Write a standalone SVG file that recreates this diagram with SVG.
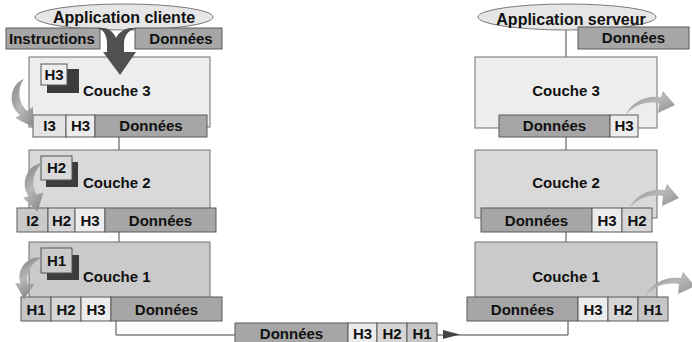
<svg xmlns="http://www.w3.org/2000/svg" width="692" height="342" viewBox="0 0 692 342">
  <style>
    text { font-family: "Liberation Sans", Arial, sans-serif; font-weight: bold; fill: #111; }
    .t15 { font-size: 15px; }
    .t16 { font-size: 16px; }
    .mid { text-anchor: middle; }
    .app { fill: #e6e6e6; stroke: #7a7a7a; stroke-width: 1; }
    .layer { stroke: #707070; stroke-width: 1; }
    .c3 { fill: #ededed; }
    .c2 { fill: #d9d9d9; }
    .c1 { fill: #cacaca; }
    .cell { stroke: #5a5a5a; stroke-width: 1; }
    .data { fill: #a6a6a6; }
    .h3 { fill: #ececec; }
    .h2 { fill: #d6d6d6; }
    .h1 { fill: #c6c6c6; }
    .i3 { fill: #e4e4e4; }
    .i2 { fill: #c9c9c9; }
    .tag { stroke: #555; stroke-width: 1; }
    .shadow { fill: #3c3c3c; }
    .wire { fill: none; stroke: #444; stroke-width: 1; }
    .bend { fill: url(#greyShade); }
  </style>
  <defs>
    <linearGradient id="greyShade" x1="0" y1="0" x2="1" y2="1">
      <stop offset="0" stop-color="#858585"/>
      <stop offset="0.5" stop-color="#b8b8b8"/>
      <stop offset="1" stop-color="#8a8a8a"/>
    </linearGradient>
    <!-- header being pushed down into the packet -->
    <path id="dropArrow" d="M0,0 C-14,5 -17,26 -4,36 L-9,39 L9,48 L9,28 L3,32 C-7,22 -6,8 0,0 Z"/>
    <!-- header being lifted out of the packet -->
    <path id="liftArrow" d="M0,0 C8,-11 21,-15 34,-13 L33,-3 L50,-11 L38,-25 L36,-19 C21,-21 6,-14 0,0 Z"/>
  </defs>

  <!-- connectors -->
  <g id="connectors">
    <line class="wire" x1="119" y1="137" x2="119" y2="150"/>
    <line class="wire" x1="119" y1="232" x2="119" y2="242"/>
    <line class="wire" x1="566" y1="30" x2="566" y2="57"/>
    <line class="wire" x1="566" y1="137" x2="566" y2="150"/>
    <line class="wire" x1="566" y1="232" x2="566" y2="242"/>
    <polyline class="wire" points="116,321 116,335 568,335 568,321"/>
    <polygon points="443,330 460,334.5 443,339" fill="#444"/>
  </g>

  <!-- client side -->
  <g id="client-app">
    <ellipse class="app" cx="124" cy="17" rx="89" ry="13"/>
    <text class="t16 mid" x="124" y="23">Application cliente</text>
  </g>
  <g id="client-instructions">
    <rect class="cell data" x="6" y="28" width="94" height="21"/>
    <text class="t15" x="9" y="44">Instructions</text>
  </g>
  <g id="client-data">
    <rect class="cell data" x="135" y="28" width="87" height="21"/>
    <text class="t15 mid" x="181" y="44">Données</text>
  </g>

  <g id="client-layer3">
    <rect class="layer c3" x="29" y="57" width="181" height="70"/>
    <rect class="shadow" x="47" y="69" width="32" height="24"/>
    <rect class="tag c3" x="41" y="64" width="26" height="21"/>
    <text class="t15 mid" x="54" y="80">H3</text>
    <text class="t15" x="83" y="96">Couche 3</text>
  </g>
  <!-- merge of instructions and data into layer 3 -->
  <path id="merge-arrow" d="M98,28 C104,30 107,36 107,44 L107,52 L103,52 L120,75 L136,52 L124,52 L124,44 C124,36 128,30 137,28 L130,28 C124,29 118,33 116,38 C114,33 110,29 104,28 Z" fill="#505050"/>
  <g id="client-packet3">
    <rect class="cell i3" x="33" y="115" width="33" height="22"/>
    <rect class="cell h3" x="66" y="115" width="29" height="22"/>
    <rect class="cell data" x="95" y="115" width="112" height="22"/>
    <text class="t15 mid" x="49.5" y="131">I3</text>
    <text class="t15 mid" x="80.5" y="131">H3</text>
    <text class="t15 mid" x="151" y="131">Données</text>
  </g>
  <use href="#dropArrow" class="bend" transform="translate(24,79)"/>

  <g id="client-layer2">
    <rect class="layer c2" x="29" y="150" width="181" height="68"/>
    <rect class="shadow" x="46" y="162" width="32" height="25"/>
    <rect class="tag c2" x="41" y="156" width="31" height="24"/>
    <text class="t15 mid" x="56.5" y="173">H2</text>
    <text class="t15" x="83" y="188">Couche 2</text>
  </g>
  <g id="client-packet2">
    <rect class="cell i2" x="17" y="208" width="31" height="24"/>
    <rect class="cell h2" x="48" y="208" width="27" height="24"/>
    <rect class="cell h3" x="75" y="208" width="30" height="24"/>
    <rect class="cell data" x="105" y="208" width="111" height="24"/>
    <text class="t15 mid" x="32.5" y="225.5">I2</text>
    <text class="t15 mid" x="61.5" y="225.5">H2</text>
    <text class="t15 mid" x="90" y="225.5">H3</text>
    <text class="t15 mid" x="160.5" y="225.5">Données</text>
  </g>
  <use href="#dropArrow" class="bend" transform="translate(43,163) rotate(17)"/>

  <g id="client-layer1">
    <rect class="layer c1" x="29" y="242" width="181" height="60"/>
    <rect class="shadow" x="47" y="255" width="32" height="25"/>
    <rect class="tag c1" x="41" y="248" width="31" height="25"/>
    <text class="t15 mid" x="56.5" y="266">H1</text>
    <text class="t15" x="83" y="282">Couche 1</text>
  </g>
  <g id="client-packet1">
    <rect class="cell h1" x="21" y="297" width="30" height="24"/>
    <rect class="cell h2" x="51" y="297" width="30" height="24"/>
    <rect class="cell h3" x="81" y="297" width="30" height="24"/>
    <rect class="cell data" x="111" y="297" width="111" height="24"/>
    <text class="t15 mid" x="36" y="314.5">H1</text>
    <text class="t15 mid" x="66" y="314.5">H2</text>
    <text class="t15 mid" x="96" y="314.5">H3</text>
    <text class="t15 mid" x="166.5" y="314.5">Données</text>
  </g>
  <use href="#dropArrow" class="bend" transform="translate(42,258) rotate(34) scale(0.92)"/>

  <!-- frame on the medium -->
  <g id="frame">
    <rect class="cell data" x="235" y="323" width="113" height="21"/>
    <rect class="cell h3" x="348" y="323" width="29" height="21"/>
    <rect class="cell h2" x="377" y="323" width="30" height="21"/>
    <rect class="cell h1" x="407" y="323" width="30" height="21"/>
    <text class="t15 mid" x="291.5" y="338.5">Données</text>
    <text class="t15 mid" x="362.5" y="338.5">H3</text>
    <text class="t15 mid" x="392" y="338.5">H2</text>
    <text class="t15 mid" x="422" y="338.5">H1</text>
  </g>

  <!-- server side -->
  <g id="server-app">
    <ellipse class="app" cx="567" cy="17" rx="89" ry="13"/>
    <text class="t16 mid" x="571" y="25">Application serveur</text>
  </g>
  <g id="server-data">
    <rect class="cell data" x="578" y="27" width="111" height="22"/>
    <text class="t15 mid" x="633.5" y="43">Données</text>
  </g>

  <g id="server-layer3">
    <rect class="layer c3" x="475" y="57" width="182" height="71"/>
    <text class="t15 mid" x="566" y="96">Couche 3</text>
  </g>
  <g id="server-packet3">
    <rect class="cell data" x="499" y="115" width="111" height="22"/>
    <rect class="cell h3" x="610" y="115" width="28" height="22"/>
    <text class="t15 mid" x="554.5" y="131">Données</text>
    <text class="t15 mid" x="624" y="131">H3</text>
  </g>
  <use href="#liftArrow" class="bend" transform="translate(625,116)"/>

  <g id="server-layer2">
    <rect class="layer c2" x="475" y="150" width="182" height="68"/>
    <text class="t15 mid" x="566" y="188">Couche 2</text>
  </g>
  <g id="server-packet2">
    <rect class="cell data" x="481" y="208" width="111" height="24"/>
    <rect class="cell h3" x="592" y="208" width="30" height="24"/>
    <rect class="cell h2" x="622" y="208" width="30" height="24"/>
    <text class="t15 mid" x="536.5" y="225.5">Données</text>
    <text class="t15 mid" x="607" y="225.5">H3</text>
    <text class="t15 mid" x="637" y="225.5">H2</text>
  </g>
  <use href="#liftArrow" class="bend" transform="translate(629,209)"/>

  <g id="server-layer1">
    <rect class="layer c1" x="475" y="242" width="182" height="60"/>
    <text class="t15 mid" x="566" y="282">Couche 1</text>
  </g>
  <g id="server-packet1">
    <rect class="cell data" x="467" y="297" width="111" height="24"/>
    <rect class="cell h3" x="578" y="297" width="30" height="24"/>
    <rect class="cell h2" x="608" y="297" width="30" height="24"/>
    <rect class="cell h1" x="638" y="297" width="30" height="24"/>
    <text class="t15 mid" x="522.5" y="314.5">Données</text>
    <text class="t15 mid" x="593" y="314.5">H3</text>
    <text class="t15 mid" x="623" y="314.5">H2</text>
    <text class="t15 mid" x="653" y="314.5">H1</text>
  </g>
  <use href="#liftArrow" class="bend" transform="translate(645,297)"/>
</svg>
